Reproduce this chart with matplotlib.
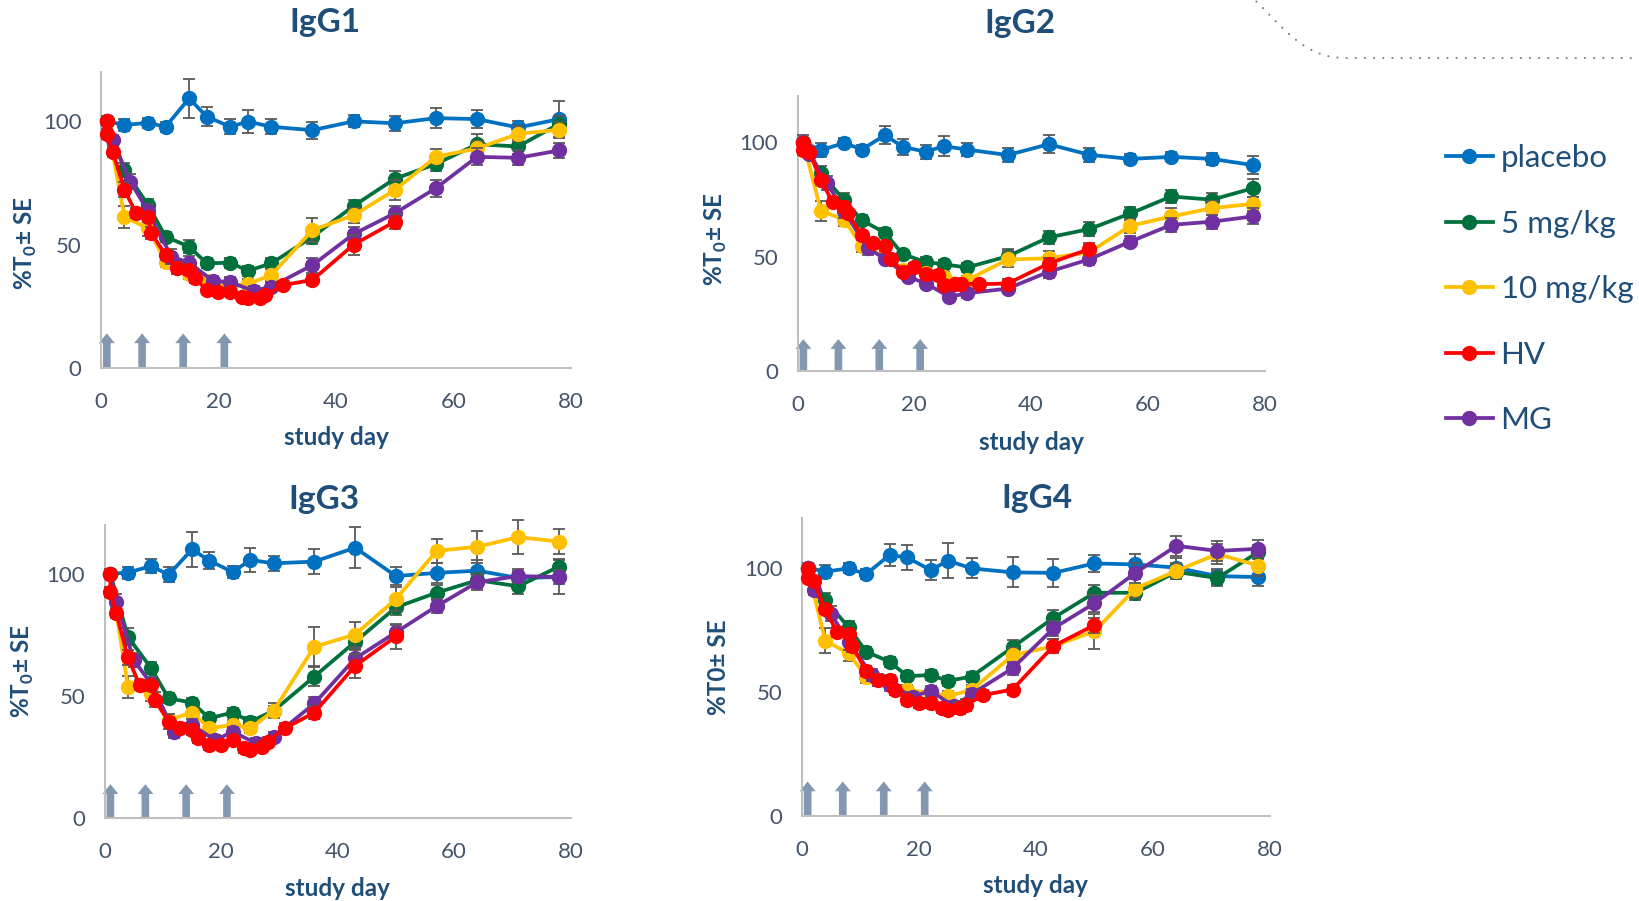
import matplotlib
matplotlib.use('Agg')
import matplotlib.pyplot as plt
from matplotlib.lines import Line2D
from matplotlib.path import Path
from matplotlib.patches import PathPatch

plt.rcParams['font.family'] = ['Lato', 'DejaVu Sans']
plt.rcParams['mathtext.fontset'] = 'custom'
plt.rcParams['mathtext.rm'] = 'Lato'
plt.rcParams['mathtext.bf'] = 'Lato:bold'

# ---- data (study day, % of T0) ----
DAYS_COHORT = [1, 4, 8, 11, 15, 18, 22, 25, 29, 36, 43, 50, 57, 64, 71, 78]   # placebo, 5, 10 mg/kg
DAYS_HV = [1, 1, 2, 4, 6, 8, 8.6, 11, 13, 15, 16, 18, 20, 22, 24, 25, 27, 28, 31, 36, 43, 50]
DAYS_MG = [1, 2, 5, 8, 12, 15, 19, 22, 26, 29, 36, 43, 50, 57, 64, 71, 78]
DOSE_DAYS = [1, 7, 14, 21]

SERIES = ['placebo', '5 mg/kg', '10 mg/kg', 'HV', 'MG']
COLORS = ['#0070C0', '#00703C', '#FFC000', '#FF0000', '#7030A0']
TITLES = ['IgG1', 'IgG2', 'IgG3', 'IgG4']
YLABELS = [r'%T$_\mathbf{0}$± SE', r'%T$_\mathbf{0}$± SE', r'%T$_\mathbf{0}$± SE', '%T0± SE']

# IgG1
G1_PLACEBO = [100, 98.5, 99.4, 97.8, 109.3, 101.9, 97.8, 99.9, 97.8, 96.4, 100, 99.2, 101.3, 100.9, 97.5, 100.9]
G1_PLACEBO_SE = [2, 2.5, 2, 2, 8, 4, 3, 4.5, 3, 3.5, 2.5, 3, 4, 3.5, 2.5, 7.5]
G1_5MG = [100, 80.3, 66.1, 53.2, 49.2, 42.4, 42.7, 39.4, 42.4, 53.2, 65.7, 76.7, 82.7, 90.7, 89.8, 99]
G1_5MG_SE = [1, 3, 2.5, 2, 2.5, 2, 2, 2, 2, 3, 2.5, 3, 3, 4, 3, 3]
G1_10MG = [100, 61.3, 56.6, 43.1, 38, 35.4, 33.4, 34, 37.7, 55.9, 61.9, 72.1, 85.6, 89, 94.9, 96.6]
G1_10MG_SE = [1, 4.5, 3, 2, 2, 2, 2, 2, 2.5, 5, 3, 4, 3, 3, 3, 3]
G1_HV = [100.3, 94.7, 87.7, 72.2, 62.7, 61.1, 54.6, 45.8, 40.4, 39.7, 36.4, 31.6, 31, 31, 28.9, 28.2,
         28.2, 29.6, 33.6, 35.7, 50, 59.3]
G1_HV_SE = [1, 2, 2, 3, 2, 2, 2.5, 2, 2.5, 2, 2, 1.5, 1.5, 1.5, 1.5, 1.5, 1.5, 1.5, 1.5, 2, 4, 3]
G1_MG = [100, 92.4, 75.5, 63.6, 45.1, 42.7, 35.4, 34.7, 31.3, 33, 41.7, 54.3, 62.7, 72.9, 85.6, 85.2, 88.2]
G1_MG_SE = [1, 2, 3, 3, 3, 2.5, 2, 2, 2, 2, 3, 3, 3, 3.5, 3.5, 3, 3]

# IgG2
G2_PLACEBO = [100, 96.5, 99.7, 96.8, 103.1, 98, 95.8, 98.3, 96.8, 94.4, 99.1, 94.5, 92.7, 93.6, 92.7, 90]
G2_PLACEBO_SE = [3, 3, 2, 2, 4, 3.5, 3, 4.5, 3, 3, 4, 3, 2, 2, 2.5, 4]
G2_5MG = [100, 86.4, 74.7, 66, 60.4, 51.1, 47.7, 46.7, 45.3, 50.2, 58.4, 62.1, 68.9, 76.3, 74.9, 79.9]
G2_5MG_SE = [1, 3, 3, 2, 2, 2, 2, 2, 2, 3, 3, 3, 3, 3, 3, 4]
G2_10MG = [100, 70, 66.2, 54.6, 50, 44.1, 42.7, 41.2, 39.7, 48.8, 49.3, 52, 63.5, 67.6, 71.2, 73.1]
G2_10MG_SE = [1, 4.5, 3, 2.5, 2, 2, 2, 2, 2, 3.5, 3, 3, 3, 3.5, 3, 3]
G2_HV = [99.7, 96.5, 95.8, 83.4, 74, 71.8, 69, 59.4, 55.8, 54.6, 49.2, 43.4, 45.6, 42.4, 42, 37.6,
         38, 38.3, 38, 38.3, 47, 53.4]
G2_HV_SE = [2, 2, 2, 2, 2, 2.5, 2, 2, 2, 2, 2, 1.5, 1.5, 1.5, 1.5, 1.5, 1.5, 1.5, 1.5, 2, 2.5, 2.5]
G2_MG = [100, 95, 82.3, 70, 53.6, 49.2, 41.2, 38.3, 32.5, 34, 36.1, 43.4, 48.9, 56.6, 63.9, 65.3, 67.6]
G2_MG_SE = [1, 2, 3, 3, 3, 2, 2, 2, 2, 2, 2, 2.5, 2.5, 2.5, 3, 3, 3.5]

# IgG3
G3_PLACEBO = [100, 100.5, 103.2, 99.6, 110, 105.4, 100.7, 105.7, 104.3, 105, 110.7, 99.1, 100.4, 101.3, 98.3, 98.7]
G3_PLACEBO_SE = [2, 2.5, 3, 3, 7, 3.5, 2.5, 5, 3, 5, 8.5, 3.5, 4, 4.5, 3, 7]
G3_5MG = [100, 74.3, 61.4, 49.1, 47.4, 41, 43.3, 39.6, 44, 58, 72.2, 86.3, 92.3, 97.4, 94.9, 103]
G3_5MG_SE = [1, 3.5, 2.5, 2, 2, 2, 2, 2, 2, 4, 3.5, 3, 3, 3, 3, 3]
G3_10MG = [100, 53.9, 51, 40.3, 43.3, 36.9, 38.2, 36.9, 44, 70.2, 75.2, 89.7, 109.4, 111.1, 115, 113.2]
G3_10MG_SE = [1, 4.5, 3, 2, 2, 2, 2, 2, 3, 8, 5, 5, 5, 6.5, 7, 5]
G3_HV = [100, 92.5, 83.9, 65.9, 54.6, 54.6, 48.5, 39.6, 36.9, 36.2, 32.8, 30, 30, 32, 28.7, 28,
         29.1, 31.4, 36.9, 43.3, 62.4, 74.4]
G3_HV_SE = [1, 2, 2, 3, 2, 2, 3, 3, 2, 2, 2, 2, 1.5, 2, 2, 2, 2, 2, 2, 2.5, 5, 5]
G3_MG = [100, 88.6, 64.8, 55, 35.5, 38.2, 32, 35.5, 30.7, 33.4, 47, 65.4, 76.1, 86.8, 96.6, 99.1, 98.7]
G3_MG_SE = [1, 3, 3, 3, 2.5, 2.5, 2, 2, 2, 2, 2.5, 4, 3, 3, 3, 3, 3]

# IgG4
G4_PLACEBO = [100, 98.4, 99.7, 97.4, 105.1, 104.1, 99, 102.8, 99.7, 98.1, 97.9, 101.7, 101.3, 100, 96.6, 96.2]
G4_PLACEBO_SE = [2, 2.5, 2, 2, 4.5, 5, 4, 7, 4, 6, 5.5, 3.5, 4, 4, 3, 3.5]
G4_5MG = [100, 87, 76, 66.2, 62.2, 56.4, 56.8, 54.5, 56.2, 68, 79.8, 89.9, 89.9, 98.3, 95.8, 106.3]
G4_5MG_SE = [1, 3, 2.5, 2, 2, 2, 2, 2, 2, 3, 3, 3, 3, 3, 3, 3]
G4_10MG = [100, 70.6, 65.6, 56.2, 53.5, 50.8, 49.7, 48.4, 50.8, 64.7, 68.5, 74.4, 91.6, 98.7, 105.5, 100.8]
G4_10MG_SE = [1, 5, 3, 2.5, 2, 2, 2, 2, 2, 3, 3, 7, 4, 3, 4, 4]
G4_HV = [99.3, 96, 94.7, 83.2, 74.2, 73.5, 68.5, 58.5, 54.8, 54.8, 50.8, 46.8, 45.4, 45.7, 43.5, 42.8,
         43.5, 44.8, 48.8, 51, 68.5, 76.9]
G4_HV_SE = [1, 1.5, 2, 2, 2, 2, 2.5, 2, 2.5, 2, 2, 2, 2, 2, 2, 2, 2.5, 2.5, 2, 2, 3, 3]
G4_MG = [100, 91, 81.4, 70, 56.8, 53, 48.1, 50.5, 44.2, 49.2, 59.5, 75.6, 85.7, 97.9, 108.8, 106.7, 107.6]
G4_MG_SE = [1, 2, 3, 3, 2.5, 2.5, 2, 2, 2, 2, 2.5, 3, 3.5, 4, 4, 4, 3.5]

PANELS = [
    [G1_PLACEBO, G1_PLACEBO_SE, G1_5MG, G1_5MG_SE, G1_10MG, G1_10MG_SE, G1_HV, G1_HV_SE, G1_MG, G1_MG_SE],
    [G2_PLACEBO, G2_PLACEBO_SE, G2_5MG, G2_5MG_SE, G2_10MG, G2_10MG_SE, G2_HV, G2_HV_SE, G2_MG, G2_MG_SE],
    [G3_PLACEBO, G3_PLACEBO_SE, G3_5MG, G3_5MG_SE, G3_10MG, G3_10MG_SE, G3_HV, G3_HV_SE, G3_MG, G3_MG_SE],
    [G4_PLACEBO, G4_PLACEBO_SE, G4_5MG, G4_5MG_SE, G4_10MG, G4_10MG_SE, G4_HV, G4_HV_SE, G4_MG, G4_MG_SE],
]

# ---- layout ----
NAVY = '#1F4E79'
TICKC = '#44546A'
RECTS = [[0.0616, 0.5916, 0.2868, 0.3285],
         [0.4866, 0.5880, 0.2850, 0.3050],
         [0.0638, 0.0916, 0.2844, 0.3258],
         [0.4892, 0.0939, 0.2857, 0.3313]]
TITLE_POS = [(0.477, 1.166), (0.476, 1.267), (0.471, 1.085), (0.503, 1.065)]
YLAB_POS = [(-0.16, 0.42), (-0.175, 0.48), (-0.175, 0.50), (-0.177, 0.50)]
XLAB_POS = [(0.50, -0.236), (0.50, -0.26), (0.50, -0.24), (0.50, -0.233)]

fig = plt.figure(figsize=(16.39, 9.01), dpi=100)

for i, vals in enumerate(PANELS):
    ax = fig.add_axes(RECTS[i])
    pl, pl_se, m5, m5_se, m10, m10_se, hv, hv_se, mg, mg_se = vals
    # drawing order: placebo, 5, 10, MG, HV (HV on top)
    order = [(DAYS_COHORT, pl, pl_se, 0), (DAYS_COHORT, m5, m5_se, 1),
             (DAYS_COHORT, m10, m10_se, 2), (DAYS_MG, mg, mg_se, 4),
             (DAYS_HV, hv, hv_se, 3)]
    for k, (x, y, se, si) in enumerate(order):
        z = 3 + 2 * k
        ax.errorbar(x, y, yerr=se, fmt='none', ecolor='#595959', elinewidth=1.3,
                    capsize=4.5, capthick=1.3, zorder=z, clip_on=False)
        ax.plot(x, y, '-o', color=COLORS[si], lw=2.7, ms=10, zorder=z + 1,
                clip_on=False, label=SERIES[si])

    for d in DOSE_DAYS:
        ax.annotate('', xy=(d, 14), xytext=(d, 0),
                    arrowprops=dict(arrowstyle='simple,head_length=0.7,head_width=1.15,tail_width=0.55',
                                    mutation_scale=10, color='#8497B0', shrinkA=0, shrinkB=0, lw=0),
                    zorder=1)

    ax.set_xlim(0, 80)
    ax.set_ylim(0, 120)
    ax.set_xticks([0, 20, 40, 60, 80])
    ax.set_yticks([0, 50, 100])
    ax.tick_params(length=0, labelsize=16, labelcolor=TICKC)
    ax.tick_params(axis='x', pad=17)
    ax.tick_params(axis='y', pad=14)
    for s in ['top', 'right']:
        ax.spines[s].set_visible(False)
    for s in ['left', 'bottom']:
        ax.spines[s].set_color('#BFBFBF')
        ax.spines[s].set_linewidth(1.5)

    ax.text(TITLE_POS[i][0], TITLE_POS[i][1], TITLES[i], transform=ax.transAxes,
            ha='center', va='center', fontsize=24, fontweight='bold', color=NAVY)
    ax.set_ylabel(YLABELS[i], fontsize=17.5, fontweight='bold', color=NAVY, va='center')
    ax.yaxis.set_label_coords(*YLAB_POS[i])
    ax.set_xlabel('study day', fontsize=17.5, fontweight='bold', color=NAVY, va='center')
    ax.xaxis.set_label_coords(*XLAB_POS[i])

# legend
leg_h = [Line2D([0], [0], color=c, lw=2.7, marker='o', ms=10) for c in COLORS]
fig.legend(leg_h, SERIES, loc='upper left', bbox_to_anchor=(0.8822, 0.8399),
           frameon=False, fontsize=22.5, labelcolor=NAVY, handlelength=1.5,
           handletextpad=0.25, labelspacing=1.2, borderpad=0, borderaxespad=0)

# dotted decoration, top right (figure pixels)
W, H = 1639.0, 901.0
pts = [(1250, -5), (1285, 30), (1305, 58), (1345, 58), (1639, 58)]
codes = [Path.MOVETO, Path.CURVE4, Path.CURVE4, Path.CURVE4, Path.LINETO]
path = Path([(px / W, 1 - py / H) for px, py in pts], codes)
fig.add_artist(PathPatch(path, transform=fig.transFigure, fill=False, edgecolor='#808080',
                         lw=1.5, linestyle=(0, (0.1, 4.3)), capstyle='round'))

fig.savefig('out.png', dpi=100)
